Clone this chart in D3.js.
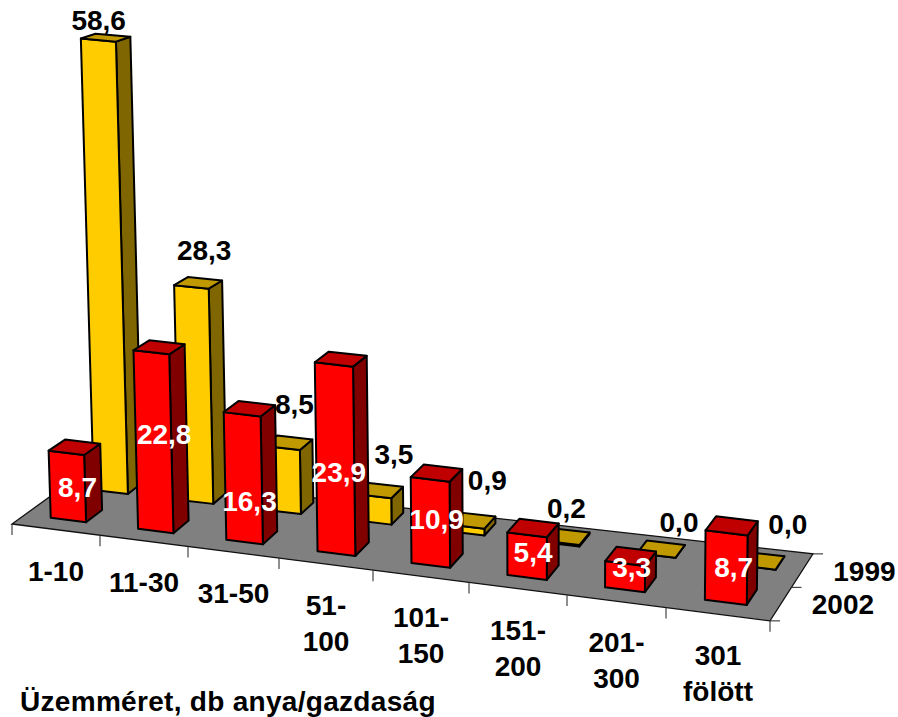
<!DOCTYPE html>
<html lang="hu">
<head>
<meta charset="utf-8">
<title>Üzemméret</title>
<script src="https://cdn.jsdelivr.net/npm/d3@7/dist/d3.min.js"></script>
<style>
html,body{margin:0;padding:0;background:#fff}
svg{display:block}
text{font-family:"Liberation Sans",Arial,sans-serif;font-weight:700}
</style>
</head>
<body>
<svg id="chart" width="898" height="717"></svg>
<script>
const categories = ["1-10","11-30","31-50","51-|100","101-|150","151-|200","201-|300","301|fölött"];
const values1999 = [58.6,28.3,8.5,3.5,0.9,0.2,0.0,0.0];
const values2002 = [8.7,22.8,16.3,23.9,10.9,5.4,3.3,8.7];
const seriesNames = ["1999","2002"];
const axisTitle = "Üzemméret, db anya/gazdaság";

const W = 898, H = 717;
const svg = d3.select("#chart").attr("viewBox",[0,0,W,H]);
const fmt = v => v.toFixed(1).replace(".",",");

// The floor recedes unevenly, so category boundaries are a piecewise scale.
const tickIndex = d3.range(categories.length + 1);
const floorX = d3.scaleLinear().domain(tickIndex).range([12,100,188,279,373,469,567,666,770]);
const floorY = d3.scaleLinear().domain([12,771]).range([524,621]);
const depthDx = d3.scaleLinear().domain([0,8]).range([72,43]);
const depthDy = d3.scaleLinear().domain([0,8]).range([-52,-67]);
const unitsTall = d3.scaleLinear().domain([0,60]).range([0,60]);

const pixelsPerUnit = (u,v,val) => 7.9 - 0.5*v + (u-4)*0.035 + val*0.005;

// Maps category position u, depth v (0 front, 1 back) and a value to the screen.
function project(u,v,val){
  const fx = floorX(u), bx = fx + depthDx(u)*v, by = floorY(fx) + depthDy(u)*v;
  const h = unitsTall(val)*pixelsPerUnit(u,v,val);
  return [bx + (bx-550)*h/16000, by - h];
}

const layers = {
  back:  {values:values1999, v0:.72, v1:.92, u0:.35, u1:.75, front:"#FFCC00", top:"#C09900", side:"#806600"},
  front: {values:values2002, v0:.18, v1:.41, u0:.295, u1:.70, front:"#FF0000", top:"#C00000", side:"#800000"}
};

// Floor
const floorCorners = [[0,0],[8,0],[8,1],[0,1]].map(([u,v])=>project(u,v,0));
svg.append("path").attr("d",d3.line()(floorCorners)+"Z")
  .attr("fill","#808080").attr("stroke","#111").attr("stroke-width",1.3).attr("stroke-linejoin","miter");

// Category ticks along the front edge
svg.append("g").selectAll("line").data(tickIndex).join("line")
  .attr("x1",d=>project(d,0,0)[0]).attr("x2",d=>project(d,0,0)[0])
  .attr("y1",d=>project(d,0,0)[1]).attr("y2",d=>project(d,0,0)[1]+11)
  .attr("stroke","#333").attr("stroke-width",1.1);

// Series ticks along the right edge
svg.append("g").selectAll("line").data([0,.5,1]).join("line")
  .attr("x1",d=>project(8,d,0)[0]).attr("x2",d=>project(8,d,0)[0]+10)
  .attr("y1",d=>project(8,d,0)[1]).attr("y2",d=>project(8,d,0)[1])
  .attr("stroke","#333").attr("stroke-width",1.1);

function drawBars(layer,name){
  const g = svg.append("g").attr("class","bars-"+name);
  layer.values.forEach((val,i)=>{
    const a=i+layer.u0, b=i+layer.u1, n=layer.v0, f=layer.v1;
    const face=(pts,fill)=>g.append("path").attr("d",d3.line()(pts)+"Z")
      .attr("fill",fill).attr("stroke","#000").attr("stroke-width",2).attr("stroke-linejoin","round");
    face([project(b,n,0),project(b,f,0),project(b,f,val),project(b,n,val)],layer.side);
    face([project(a,n,0),project(b,n,0),project(b,n,val),project(a,n,val)],layer.front);
    face([project(a,n,val),project(b,n,val),project(b,f,val),project(a,f,val)],layer.top);
  });
}
drawBars(layers.back,"1999");
drawBars(layers.front,"2002");

// Value labels sit near their bars; the nudges clear neighbouring columns.
const nudge1999 = [[-7,-8],[6,-23],[6,-29],[15,-26],[16,-30],[1,-19],[18,-17],[28,-27]];
const nudge2002 = [[3,50],[5,97],[0,102],[-2,123],[0,56],[0,34],[1,21],[2,51]];

function drawValues(layer,nudges,color){
  svg.append("g").selectAll("text").data(layer.values).join("text")
    .attr("text-anchor","middle").attr("font-size",28).attr("fill",color)
    .attr("x",(d,i)=>project(i+(layer.u0+layer.u1)/2,(layer.v0+layer.v1)/2,d)[0]+nudges[i][0])
    .attr("y",(d,i)=>project(i+(layer.u0+layer.u1)/2,(layer.v0+layer.v1)/2,d)[1]+nudges[i][1])
    .text(d=>fmt(d));
}
drawValues(layers.back,nudge1999,"#000");
drawValues(layers.front,nudge2002,"#fff");

// Category labels, two lines where the range is split
const catGroup = svg.append("g");
categories.forEach((c,i)=>{
  const p = project(i+.5,0,0);
  c.split("|").forEach((line,j)=>{
    catGroup.append("text").attr("text-anchor","middle").attr("font-size",28)
      .attr("x",p[0]).attr("y",p[1]+51+j*36).text(line);
  });
});

// Series names beside the right edge
svg.append("g").selectAll("text").data(seriesNames).join("text")
  .attr("font-size",28)
  .attr("x",(d,i)=>project(8,i?.25:.75,0)[0]+31)
  .attr("y",(d,i)=>project(8,i?.25:.75,0)[1]+10)
  .text(d=>d);

svg.append("text").attr("x",20).attr("y",711).attr("font-size",28)
  .attr("letter-spacing",.3).text(axisTitle);
</script>
</body>
</html>
